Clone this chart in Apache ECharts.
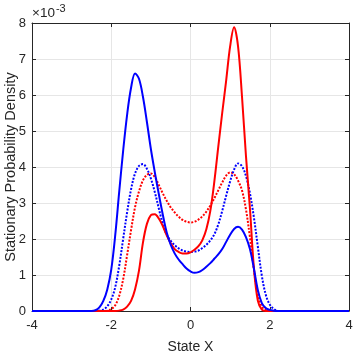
<!DOCTYPE html>
<html>
<head>
<meta charset="utf-8">
<script src="https://cdn.jsdelivr.net/npm/echarts@6/dist/echarts.min.js"></script>
<style>html,body{margin:0;padding:0;background:#fff;}#c{width:354px;height:354px;}</style>
</head>
<body>
<div id="c"></div>
<script>
// State X sample points
const xs = [-4, -2.5, -2.4, -2.3, -2.2, -2.1, -2.0, -1.9, -1.8, -1.7, -1.6, -1.5, -1.4, -1.3, -1.2, -1.1, -1.0, -0.9, -0.8, -0.7, -0.6, -0.5, -0.4, -0.3, -0.2, -0.1, 0, 0.1, 0.2, 0.3, 0.4, 0.5, 0.6, 0.7, 0.8, 0.9, 1.0, 1.1, 1.2, 1.3, 1.4, 1.5, 1.6, 1.7, 1.8, 1.9, 2.0, 2.1, 2.2, 2.3, 4];
// densities in units of 1e-3
const blueSolid = [0, 0, 0.02, 0.1, 0.28, 0.6, 1.15, 2.1, 3.3, 4.45, 5.45, 6.2, 6.6, 6.45, 5.95, 5.25, 4.5, 3.85, 3.25, 2.68, 2.18, 1.84, 1.6, 1.43, 1.3, 1.18, 1.1, 1.06, 1.08, 1.14, 1.23, 1.33, 1.45, 1.57, 1.72, 1.92, 2.12, 2.28, 2.34, 2.26, 2.05, 1.72, 1.18, 0.58, 0.22, 0.08, 0.03, 0.01, 0, 0, 0];
const redSolid = [0, 0, 0, 0, 0, 0, 0, 0, 0.01, 0.04, 0.12, 0.28, 0.6, 1.12, 1.9, 2.42, 2.66, 2.69, 2.57, 2.36, 2.1, 1.88, 1.72, 1.64, 1.6, 1.6, 1.63, 1.7, 1.8, 1.97, 2.27, 2.78, 3.58, 4.55, 5.5, 6.4, 7.35, 7.88, 7.35, 5.95, 4.3, 2.85, 1.2, 0.28, 0.04, 0, 0, 0, 0, 0, 0];
const blueDotted = [0, 0, 0, 0.01, 0.04, 0.13, 0.32, 0.66, 1.25, 2.0, 2.74, 3.38, 3.82, 4.03, 4.08, 3.95, 3.68, 3.3, 2.85, 2.42, 2.12, 1.95, 1.83, 1.74, 1.68, 1.65, 1.64, 1.65, 1.68, 1.75, 1.84, 1.96, 2.13, 2.4, 2.78, 3.2, 3.6, 3.93, 4.1, 4.02, 3.75, 3.27, 2.6, 1.78, 0.98, 0.45, 0.18, 0.06, 0.01, 0, 0];
const redDotted = [0, 0, 0, 0, 0, 0.01, 0.05, 0.16, 0.42, 0.88, 1.55, 2.25, 2.88, 3.32, 3.63, 3.78, 3.82, 3.72, 3.5, 3.27, 3.06, 2.88, 2.74, 2.62, 2.53, 2.48, 2.46, 2.48, 2.54, 2.63, 2.76, 2.93, 3.13, 3.35, 3.57, 3.76, 3.85, 3.8, 3.62, 3.35, 2.82, 2.05, 1.15, 0.45, 0.13, 0.02, 0, 0, 0, 0, 0];
const yTicks = ['0','1','2','3','4','5','6','7','8'];

const pair = arr => xs.map((x, i) => [x, arr[i]]);
const font = 'Liberation Sans, Arial, sans-serif';
const axisCol = '#262626';
const chart = echarts.init(document.getElementById('c'), null, {renderer: 'canvas'});
const mk = (name, data, color, type) => ({
  name, type: 'line', data: pair(data), smooth: 0.35, showSymbol: false, symbol: 'none',
  lineStyle: {color, width: 2, type: type === 'dot' ? [2, 1.5] : 'solid'},
  animation: false, z: type === 'dot' ? 3 : 4
});
chart.setOption({
  animation: false,
  backgroundColor: '#fff',
  grid: {left: 32, right: 5, top: 23, bottom: 43, containLabel: false, outerBoundsMode: 'none'},
  xAxis: [{
    type: 'value', min: -4, max: 4, interval: 2,
    name: 'State X', nameLocation: 'middle', nameGap: 29,
    nameTextStyle: {fontFamily: font, fontSize: 14, color: axisCol},
    axisLine: {show: true, onZero: false, lineStyle: {color: axisCol, width: 1}},
    axisTick: {show: true, inside: true, length: 4, lineStyle: {color: axisCol}},
    axisLabel: {fontFamily: font, fontSize: 13, color: axisCol, margin: 8},
    splitLine: {show: true, lineStyle: {color: '#e6e6e6', width: 1}}
  }, {
    type: 'value', position: 'top', min: -4, max: 4, interval: 2,
    axisLine: {show: true, onZero: false, lineStyle: {color: axisCol, width: 1}},
    axisTick: {show: true, inside: true, length: 4, lineStyle: {color: axisCol}},
    axisLabel: {show: false}, splitLine: {show: false}
  }],
  yAxis: [{
    type: 'value', min: 0, max: 8, interval: 1,
    name: 'Stationary Probability Density', nameLocation: 'middle', nameGap: 14,
    nameMoveOverlap: false,
    nameTextStyle: {fontFamily: font, fontSize: 14.5, color: axisCol},
    axisLine: {show: true, onZero: false, lineStyle: {color: axisCol, width: 1}},
    axisTick: {show: true, inside: true, length: 4, lineStyle: {color: axisCol}},
    axisLabel: {fontFamily: font, fontSize: 13, color: axisCol, margin: 6,
      formatter: v => yTicks[Math.round(v)]},
    splitLine: {show: true, lineStyle: {color: '#e6e6e6', width: 1}}
  }, {
    type: 'value', position: 'right', min: 0, max: 8, interval: 1,
    axisLine: {show: true, onZero: false, lineStyle: {color: axisCol, width: 1}},
    axisTick: {show: true, inside: true, length: 4, lineStyle: {color: axisCol}},
    axisLabel: {show: false}, splitLine: {show: false}
  }],
  graphic: [{
    type: 'text', left: 32, top: 3,
    style: {
      text: '{a|×10}{b|-3}', fontFamily: font,
      rich: {
        a: {fontSize: 13.5, fontFamily: font, fill: axisCol, verticalAlign: 'bottom', lineHeight: 17},
        b: {fontSize: 11, fontFamily: font, fill: axisCol, verticalAlign: 'top', lineHeight: 11, padding: [0, 0, 8, 1]}
      }
    }
  }],
  series: [
    mk('red dotted', redDotted, '#ff0000', 'dot'),
    mk('blue dotted', blueDotted, '#0000ff', 'dot'),
    mk('red', redSolid, '#ff0000', 'solid'),
    mk('blue', blueSolid, '#0000ff', 'solid')
  ]
});
</script>
</body>
</html>
